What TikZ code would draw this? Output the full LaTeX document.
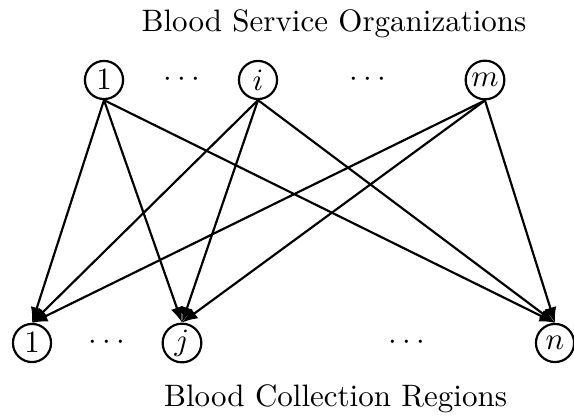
\documentclass[tikz,border=0pt]{standalone}
\usetikzlibrary{arrows.meta}
\begin{document}
\begin{tikzpicture}[x=0.3226pt,y=-0.3226pt,
  vert/.style={circle,draw,line width=0.7pt,inner sep=1pt,minimum size=12.3pt},
  edge/.style={line width=0.7pt,-{Latex[length=5pt,width=4pt]}},
  lbl/.style={inner sep=0pt,anchor=base}]
\useasboundingbox (0,0) rectangle (574,417);
\node[lbl] (top) at (334,31.7) {Blood Service Organizations};
\node[lbl] (bot) at (335.6,406) {Blood Collection Regions};
\node[vert] (s1) at (104,80) {$1$};
\node (sd1) at (182,80) {$\cdots$};
\node[vert] (si) at (258,80) {$i$};
\node (sd2) at (368,80) {$\cdots$};
\node[vert] (sm) at (485,80) {$m$};
\node[vert] (r1) at (32,343) {$1$};
\node (rd1) at (107,343) {$\cdots$};
\node[vert] (rj) at (182,343) {$j$};
\node (rd2) at (407,343) {$\cdots$};
\node[vert] (rn) at (555,343) {$n$};
\foreach \s in {s1,si,sm}
  \foreach \r in {r1,rj,rn}
    \draw[edge] (\s.south) -- (\r.north);
\end{tikzpicture}
\end{document}
